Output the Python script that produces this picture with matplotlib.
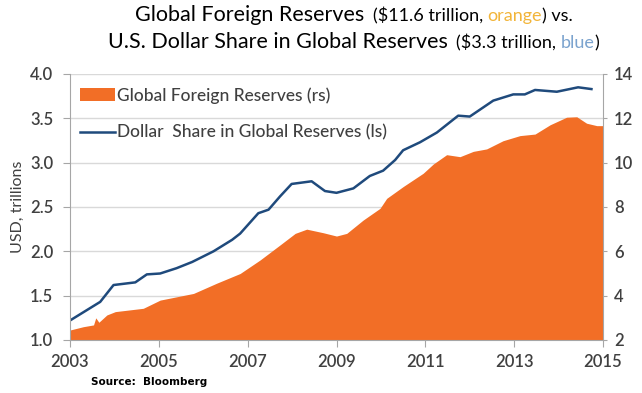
import matplotlib.pyplot as plt

# Data (approximate)
blue_years = [2003.0, 2003.68, 2003.98, 2004.47, 2004.73, 2005.03, 2005.4, 2005.75,
              2006.23, 2006.65, 2006.83, 2007.24, 2007.47, 2007.73, 2007.99, 2008.44,
              2008.74, 2009.0, 2009.38, 2009.75, 2010.05, 2010.32, 2010.5, 2010.88,
              2011.26, 2011.74, 2012.0, 2012.53, 2012.98, 2013.24, 2013.47, 2013.96,
              2014.44, 2014.74]
blue_vals = [1.22, 1.43, 1.62, 1.65, 1.74, 1.75, 1.81, 1.88,
             2.00, 2.13, 2.20, 2.43, 2.47, 2.62, 2.76, 2.79,
             2.68, 2.66, 2.71, 2.85, 2.91, 3.03, 3.14, 3.23,
             3.34, 3.53, 3.52, 3.70, 3.77, 3.77, 3.82, 3.80,
             3.85, 3.83]

orange_years = [2003.0, 2003.3, 2003.53, 2003.58, 2003.65, 2003.83, 2004.02, 2004.65,
                2005.03, 2005.78, 2006.3, 2006.83, 2007.28, 2007.73, 2008.07, 2008.33,
                2008.7, 2009.0, 2009.23, 2009.6, 2009.98, 2010.13, 2010.5, 2010.95,
                2011.18, 2011.48, 2011.78, 2012.08, 2012.38, 2012.75, 2013.13, 2013.47,
                2013.81, 2014.18, 2014.41, 2014.63, 2014.86, 2015.0]
orange_vals = [2.45, 2.60, 2.68, 3.00, 2.80, 3.13, 3.28, 3.43,
               3.80, 4.10, 4.56, 5.00, 5.61, 6.29, 6.81, 7.00,
               6.84, 6.69, 6.81, 7.41, 7.94, 8.39, 8.92, 9.52,
               9.94, 10.36, 10.27, 10.51, 10.62, 10.99, 11.22, 11.29,
               11.71, 12.05, 12.07, 11.78, 11.67, 11.67]

year_ticks = [2003, 2005, 2007, 2009, 2011, 2013, 2015]
left_ticks = [1.0, 1.5, 2.0, 2.5, 3.0, 3.5, 4.0]
right_ticks = [2, 4, 6, 8, 10, 12, 14]

ORANGE = '#F26E26'
NAVY = '#1F4A7C'
GRID = '#D9D9D9'
SPINE = '#A6A6A6'
TEXT = '#404040'

plt.rcParams['font.family'] = ['Lato', 'DejaVu Sans']

fig = plt.figure(figsize=(6.42, 3.93), dpi=100)
ax = fig.add_axes([70 / 642, 1 - 340 / 393, 533 / 642, 266 / 393])
ax2 = ax.twinx()

# orange area on the right scale, blue line on the left scale (drawn on top)
fill = ax2.fill_between(orange_years, 2, orange_vals, color=ORANGE, linewidth=0,
                        label='Global Foreign Reserves (rs)')
line, = ax.plot(blue_years, blue_vals, color=NAVY, lw=1.8,
                label='Dollar  Share in Global Reserves (ls)')

ax2.set_zorder(1)
ax.set_zorder(2)
ax.patch.set_visible(False)

ax.set_xlim(2003, 2015)
ax.set_ylim(1, 4)
ax2.set_ylim(2, 14)
ax.set_xticks(year_ticks)
ax.set_yticks(left_ticks)
ax.set_yticklabels(['%.1f' % v for v in left_ticks])
ax2.set_yticks(right_ticks)

ax2.grid(axis='y', color=GRID, lw=1)
ax2.set_axisbelow(True)

for s in ['top', 'right']:
    ax.spines[s].set_visible(False)
for s in ['top', 'left', 'bottom']:
    ax2.spines[s].set_visible(False)
ax.spines['left'].set_color(SPINE)
ax.spines['bottom'].set_color(SPINE)
ax2.spines['right'].set_color(SPINE)

ax.tick_params(axis='y', length=5, pad=7, color=SPINE, labelcolor=TEXT)
ax.tick_params(axis='x', length=5, pad=5, color=SPINE, labelcolor=TEXT)
ax2.tick_params(axis='y', length=3, pad=5, color=SPINE, labelcolor=TEXT)
for lab in ax.get_xticklabels() + ax.get_yticklabels() + ax2.get_yticklabels():
    lab.set_fontsize(12)
    lab.set_fontweight('semibold')

ax.set_ylabel('USD, trillions', fontsize=11.5, color=TEXT)
ax.yaxis.set_label_coords(-0.085, 0.5)

ax.legend([fill, line], [fill.get_label(), line.get_label()],
          loc='upper left', bbox_to_anchor=(80 / 642, 1 - 87 / 393),
          bbox_transform=fig.transFigure, frameon=False,
          prop={'size': 12.5, 'weight': 'medium'},
          handlelength=2.0, handleheight=0.7, handletextpad=0.15,
          labelspacing=1.2, borderpad=0, borderaxespad=0, labelcolor=TEXT)

fig.text(91 / 642, 1 - 382 / 393, 'Source:  Bloomberg', va='center', fontsize=7.5,
         fontweight='bold', family=['Liberation Sans Narrow', 'DejaVu Sans'])

# two-line title built from pieces of different size and colour
renderer = fig.canvas.get_renderer()
title_lines = [
    (21, [('Global Foreign Reserves', 15.5, 'black'), ('($11.6 trillion, ', 13, 'black'),
          ('orange', 13, '#F2B53A'), (') vs.', 13, 'black')]),
    (48, [('U.S. Dollar Share in Global Reserves', 15.5, 'black'), ('($3.3 trillion, ', 13, 'black'),
          ('blue', 13, '#7BA3CE'), (')', 13, 'black')]),
]
for base_y, pieces in title_lines:
    texts = []
    widths = []
    for i, (s, size, col) in enumerate(pieces):
        t = fig.text(0, 1 - base_y / 393, s, fontsize=size, color=col, va='baseline',
                     ha='left')
        texts.append(t)
        widths.append(t.get_window_extent(renderer).width)
    gap = 8
    total = sum(widths) + gap
    x = 354 - total / 2
    for i, t in enumerate(texts):
        t.set_x(x / 642)
        x += widths[i] + (gap if i == 0 else 0)

fig.savefig('out.png', dpi=100)
